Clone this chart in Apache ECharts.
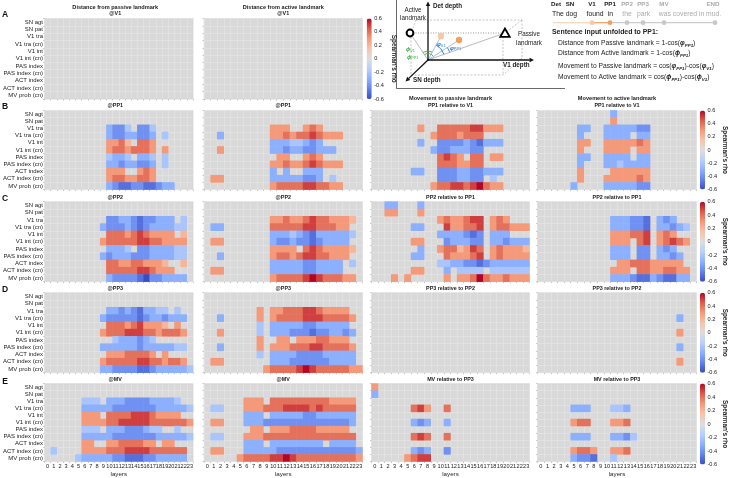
<!DOCTYPE html>
<html lang="en">

<head>
  <meta charset="UTF-8">
  <title>Spearman's rho by layer</title>
  <style>
    html,
    body {
      margin: 0;
      padding: 0;
      background: #fff;
    }

    #chart {
      width: 731px;
      height: 478px;
    }
  </style>
</head>

<body>
  <div id="chart"></div>
  <script src="https://cdn.jsdelivr.net/npm/echarts@6/dist/echarts.min.js"></script>
  <script>
    var layers = ['0', '1', '2', '3', '4', '5', '6', '7', '8', '9', '10', '11', '12', '13', '14', '15', '16', '17', '18', '19', '20', '21', '22', '23'];
    var features = ['SN agt', 'SN pat', 'V1 tra', 'V1 tra (cn)', 'V1 int', 'V1 int (cn)', 'PAS index', 'PAS index (cn)', 'ACT index', 'ACT index (cn)', 'MV prob (cn)'];
    var rhoTicks = ['0.6', '0.4', '0.2', '0', '-0.2', '-0.4', '-0.6'];

    // one string per feature, one char per layer
    // '.' = not significant, '1'..'6' = +0.1..+0.6, 'a'..'f' = -0.1..-0.6
    var distPassV1 = [
      '........................', '........................', '........................', '........................',
      '........................', '........................', '........................', '........................',
      '........................', '........................', '........................'
    ];
    var distActV1 = [
      '........................', '........................', '........................', '........................',
      '........................', '........................', '........................', '........................',
      '........................', '........................', '........................'
    ];

    var distPassPP1 = [
      '........................',
      '........................',
      '..........cddb.ddb......',
      '..........cddccddc.b....',
      '..........3342.443......',
      '..........34434443.3....',
      '..........bccb.ccb.b....',
      '..........ccdccddc.b....',
      '..........333..343......',
      '..........34433443......',
      '..........cdeeddeedcc...'
    ];
    var distActPP1 = [
      '........................',
      '........................',
      '..........333..343......',
      '..c.......33434454333...',
      '..........cccbbcdc......',
      '..3.......ccdccddccc....',
      '...........33..343......',
      '..........33433454333...',
      '..........c.c..ccc......',
      '.33.......cccccddc.b....',
      '..........34444554433...'
    ];
    var movePassPP1 = [
      '........................',
      '........................',
      '.......3..4444455333....',
      '.........34443444.......',
      '.......c..ddddcdeccc....',
      '.........cddcccdd.......',
      '..........4543.44.33....',
      '..........4443344.......',
      '......cc..dddccddccc....',
      '..........dddccdd.b.....',
      '.........34455456433....'
    ];
    var moveActPP1 = [
      '...........c............',
      '...........3............',
      '......cc..cccccdd.......',
      '......c...cccc.cc.......',
      '......33..3333343.......',
      '......3...3333.33.......',
      '......cc..cccc.cc.......',
      '......c...ccbcccc.......',
      '......3....333333.......',
      '......3...3333343.......',
      '.....c....cccccdd.......'
    ];

    var distPassPP2 = [
      '........................',
      '........................',
      '..........ddccdeddccc.b.',
      '.........cdddcdedccccbb.',
      '..........44434543333.2.',
      '.........34444455443333.',
      '..........cccb.ddccccbb.',
      '.........cdcccdddccccbb.',
      '..........4433443332..2.',
      '..........44444554333...',
      '..........cddddefddcccc.'
    ];
    var distActPP2 = [
      '........................',
      '........................',
      '..........3343345443332.',
      '.cc.......444445544433..',
      '..........cccbcdecccccb.',
      '.33.......cddcddedcccc..',
      '..........3333.45433332.',
      '..c.......344345544333..',
      '..........cccccddcccc.b.',
      '.33.......cccccddcccc...',
      '..........3444456544433.'
    ];
    var movePassPP2 = [
      '..cc...c................',
      '..33...3................',
      '..........3433455.343...',
      '......cc...533445.344333',
      '..........ccccded.ccc...',
      '......33...dcccdd.ccdccc',
      '.......c..3442354.343332',
      '......cc...433345.343333',
      '..........bbccddedcccccc',
      '......33...c.bbbb.bbbbbb',
      '...3.3.....3.33464334333'
    ];
    var moveActPP2 = [
      '........................',
      '........................',
      '...........cccdde.cdc...',
      '...........cccdde.ccdcb.',
      '...........333445.343...',
      '...........333.45.34543.',
      '...........ccc.dd.cdc...',
      '...........ccc.dd.ccdc..',
      '............3344433333..',
      '...........333.44334433.',
      '...........cccdeecdeecc.'
    ];

    var distPassPP3 = [
      '........................',
      '........................',
      '..........ccdcdeccbb.b..',
      '.........cdddddedccdccc.',
      '..........4443453332.3..',
      '.........34445554434443.',
      '...........bcccdcb......',
      '.........ccccccdcccccbb.',
      '..........33344443.3....',
      '.........34444455443443.',
      '.........ccddddeedcccccb'
    ];
    var distActPP3 = [
      '........................',
      '........................',
      '........3.334445543333..',
      '..c.....3.3444455544443.',
      '........b.cccccddccccc..',
      '..3.....b.cccdddeddccdc.',
      '........3..33.33344333..',
      '..c.....3.3334445544443.',
      '........b.ccccddddccccc.',
      '.33.......cccddddddcccc.',
      '.........344445654444433'
    ];
    var movePassPP3 = [
      '........................', '........................', '........................', '........................',
      '........................', '........................', '........................', '........................',
      '........................', '........................', '........................'
    ];
    var moveActPP3 = [
      '........................',
      '........................',
      '........................',
      '.....................c..',
      '........................',
      '.....................3..',
      '........................',
      '.....................c..',
      '........................',
      '.....................3..',
      '........................'
    ];

    var distPassMV = [
      '........................',
      '........................',
      '......bbb.cccddddccccb..',
      '......cccccdddddddcccccb',
      '......333.444455543333..',
      '......333344555554444443',
      '......bbb.cccdddcbb..b..',
      '......cccccdddddddcccccb',
      '......33..33444433.33...',
      '.b....33334445555444444.',
      '.....bcccccddeeeddccccc.'
    ];
    var distActMV = [
      '........................',
      '........................',
      '......333.4444444443333.',
      '.bb...33344455554544444.',
      '......ccc.cccccddcccccc.',
      '.33...cccdddddddddddddc.',
      '.......33.333444433333..',
      '.bb...33344444444444444.',
      '......ccc.cccccccc.cccc.',
      '.33...cccccddddddddddddc',
      '.....3444455654444444443'
    ];
    var movePassMV = [
      '3.......................',
      'c.......................',
      '........................',
      '......453..4............',
      '........................',
      '......cdc..c............',
      '........................',
      '......454..4............',
      '........................',
      '......cdc..d............',
      '.....3455...............'
    ];
    var moveActMV = [
      '........................',
      '........................',
      '........................',
      '.....ccc...bbc..........',
      '........................',
      '.....344...334..........',
      '........................',
      '.....ccc...ccdb.........',
      '........................',
      '.....3443..334..........',
      '.....cdde..b............'
    ];

    var panels = [
      { row: 0, col: 0, cells: distPassV1, head: 'Distance from passive landmark', sub: '@V1' },
      { row: 0, col: 1, cells: distActV1, head: 'Distance from active landmark', sub: '@V1' },
      { row: 1, col: 0, cells: distPassPP1, sub: '@PP1' },
      { row: 1, col: 1, cells: distActPP1, sub: '@PP1' },
      { row: 1, col: 2, cells: movePassPP1, head: 'Movement to passive landmark', sub: 'PP1 relative to V1' },
      { row: 1, col: 3, cells: moveActPP1, head: 'Movement to active landmark', sub: 'PP1 relative to V1' },
      { row: 2, col: 0, cells: distPassPP2, sub: '@PP2' },
      { row: 2, col: 1, cells: distActPP2, sub: '@PP2' },
      { row: 2, col: 2, cells: movePassPP2, sub: 'PP2 relative to PP1' },
      { row: 2, col: 3, cells: moveActPP2, sub: 'PP2 relative to PP1' },
      { row: 3, col: 0, cells: distPassPP3, sub: '@PP3' },
      { row: 3, col: 1, cells: distActPP3, sub: '@PP3' },
      { row: 3, col: 2, cells: movePassPP3, sub: 'PP3 relative to PP2' },
      { row: 3, col: 3, cells: moveActPP3, sub: 'PP3 relative to PP2' },
      { row: 4, col: 0, cells: distPassMV, sub: '@MV' },
      { row: 4, col: 1, cells: distActMV, sub: '@MV' },
      { row: 4, col: 2, cells: movePassMV, sub: 'MV relative to PP3' },
      { row: 4, col: 3, cells: moveActMV, sub: 'MV relative to PP3' }
    ];

    var FONT = '"Liberation Sans", Arial, sans-serif';
    var colX = [[37.5, 155.5], [204, 158.5], [371.5, 158], [537.5, 159]];
    var rowY = [[18.5, 80.5], [110.4, 79.2], [201.7, 80], [292.7, 80], [383.6, 81]];
    var coolwarm = ['#3b4cc0', '#6282ea', '#8db0fe', '#b8d0f9', '#dddddd', '#f5c4ac', '#f49a7b', '#dc5d4b', '#b40426'];

    function decode(rows) {
      var out = [];
      rows.forEach(function (s, r) {
        s = (s + '........................').slice(0, 24);
        for (var c = 0; c < 24; c++) {
          var ch = s.charAt(c);
          if (ch === '.') continue;
          var v = (ch >= '0' && ch <= '9') ? +ch / 10 : -(ch.charCodeAt(0) - 96) / 10;
          out.push([c, r, v]);
        }
      });
      return out;
    }

    function txt(x, y, s, size, opt) {
      var st = {
        text: s, x: x, y: y, fontSize: size, fontFamily: FONT, fill: '#222',
        align: 'center', verticalAlign: 'middle', textAlign: 'center', textVerticalAlign: 'middle'
      };
      for (var k in opt) st[k] = opt[k];
      if (opt && opt.align) st.textAlign = opt.align;
      return { type: 'text', silent: true, style: st };
    }

    function line(x1, y1, x2, y2, stroke, w, dash) {
      return {
        type: 'line', silent: true, shape: { x1: x1, y1: y1, x2: x2, y2: y2 },
        style: { stroke: stroke, lineWidth: w, lineDash: dash || null }
      };
    }

    function arrow(x1, y1, x2, y2) {
      var dx = x2 - x1, dy = y2 - y1, len = Math.sqrt(dx * dx + dy * dy);
      var ux = dx / len, uy = dy / len, h = 4.5, w = 2.2;
      var bx = x2 - ux * h, by = y2 - uy * h;
      return [
        line(x1, y1, bx, by, '#111', 1.3),
        {
          type: 'polygon', silent: true,
          shape: { points: [[x2, y2], [bx - uy * w, by + ux * w], [bx + uy * w, by - ux * w]] },
          style: { fill: '#111' }
        }
      ];
    }

    function arc(r, a1, a2, color) {
      return {
        type: 'arc', silent: true,
        shape: { cx: 428, cy: 60, r: r, startAngle: a1 * Math.PI / 180, endAngle: a2 * Math.PI / 180, clockwise: true },
        style: { stroke: color, fill: null, lineWidth: 0.9 }
      };
    }

    var grids = [], xAxes = [], yAxes = [], series = [], graphics = [];
    var rowSeries = [[], [], [], [], []];

    panels.forEach(function (p, i) {
      var left = colX[p.col][0], width = colX[p.col][1];
      var top = rowY[p.row][0], height = rowY[p.row][1];
      var last = p.row === 4;
      grids.push({
        left: left, top: top, width: width, height: height, show: true,
        backgroundColor: '#d9d9d9', borderColor: '#cccccc', borderWidth: 0.5
      });
      xAxes.push({
        type: 'category', gridIndex: i, data: layers,
        axisLine: { show: false },
        axisTick: { show: true, interval: 0, length: 1.5, lineStyle: { color: '#999', width: 0.5 } },
        axisLabel: { show: last, interval: 0, fontSize: 5.6, margin: 1.5, color: '#222', fontFamily: FONT },
        splitLine: { show: true, interval: 0, lineStyle: { color: '#e9e9e9', width: 0.5 } },
        name: last ? 'layers' : '', nameLocation: 'middle', nameGap: 9.5,
        nameTextStyle: { fontSize: 6.2, color: '#222', fontFamily: FONT }
      });
      yAxes.push({
        type: 'category', gridIndex: i, data: features, inverse: true,
        axisLine: { show: false },
        axisTick: { show: true, interval: 0, length: 1.5, lineStyle: { color: '#999', width: 0.5 } },
        axisLabel: { show: p.col === 0, interval: 0, fontSize: 6, margin: 1.5, color: '#222', fontFamily: FONT },
        splitLine: { show: true, interval: 0, lineStyle: { color: '#e9e9e9', width: 0.5 } }
      });
      rowSeries[p.row].push(series.length);
      series.push({
        type: 'heatmap', xAxisIndex: i, yAxisIndex: i, data: decode(p.cells),
        itemStyle: { borderWidth: 0 }, emphasis: { disabled: true }, silent: true
      });
      // panel titles
      var cx = left + width / 2;
      if (p.head) {
        graphics.push(txt(cx, top - 11.5, p.head, 5.6, { fontWeight: 'bold' }));
      }
      graphics.push(txt(cx, top - 4.5, p.sub, 5.4, { fontWeight: 'bold' }));
    });

    // colour bars: one per row
    var visualMaps = [];
    rowY.forEach(function (ry, r) {
      var cbX = r === 0 ? 366.7 : 700;
      visualMaps.push({
        type: 'continuous', min: -0.6, max: 0.6, seriesIndex: rowSeries[r],
        calculable: false, hoverLink: false, orient: 'vertical', padding: 0,
        left: cbX, top: ry[0], itemWidth: 5, itemHeight: ry[1],
        inRange: { color: coolwarm }
      });
      var gi = grids.length;
      grids.push({ left: cbX, top: ry[0], width: 5, height: ry[1], show: false });
      xAxes.push({ type: 'value', gridIndex: gi, show: false, min: 0, max: 1 });
      yAxes.push({
        type: 'value', gridIndex: gi, min: -0.6, max: 0.6, interval: 0.2, position: 'right',
        axisLine: { show: false }, axisTick: { show: false }, splitLine: { show: false },
        axisLabel: {
          fontSize: 5.6, margin: 2.5, color: '#222', fontFamily: FONT,
          formatter: function (v) { return rhoTicks[Math.round((0.6 - v) / 0.2)]; }
        },
        name: "Spearman's rho", nameLocation: 'middle', nameRotate: -90, nameGap: r === 0 ? 19 : 17,
        nameTextStyle: { fontSize: 6.4, fontWeight: 'bold', color: '#222', fontFamily: FONT }
      });
    });

    // row letters
    [['A', 15], ['B', 107], ['C', 198.5], ['D', 290], ['E', 381.5]].forEach(function (l) {
      graphics.push(txt(5, l[1], l[0], 8.5, { fontWeight: 'bold', fill: '#111' }));
    });

    // diagram frame
    graphics.push(line(396.5, 0, 396.5, 88.5, '#444', 0.8));
    graphics.push(line(396.5, 88.5, 565, 88.5, '#444', 0.8));

    // dashed box
    var g = '#9a9a9a';
    graphics.push(line(416, 20, 522, 20, g, 0.6, [2, 1.5]));
    graphics.push(line(522, 20, 522, 58, g, 0.6, [2, 1.5]));
    graphics.push(line(522, 20, 505, 33, g, 0.6, [2, 1.5]));
    graphics.push(line(416, 20, 411, 33, g, 0.6, [2, 1.5]));
    graphics.push(line(413, 33, 501, 33, '#555', 0.6, [1, 1.5]));
    graphics.push(line(503, 33, 503, 75, g, 0.6, [2, 1.5]));
    graphics.push(line(411, 75, 503, 75, g, 0.6, [2, 1.5]));
    graphics.push(line(411, 37, 411, 75, g, 0.6, [2, 1.5]));
    graphics.push(line(522, 58, 503, 75, g, 0.6, [2, 1.5]));

    // vectors from origin
    graphics.push(line(428, 60, 410, 33, '#8a8a8a', 0.6));
    graphics.push(line(428, 60, 505, 33, '#8a8a8a', 0.6));
    graphics.push(line(428, 60, 441, 36, '#5a9be0', 0.6));
    graphics.push(line(428, 60, 459, 40, '#5a9be0', 0.6));

    // axes
    graphics = graphics.concat(arrow(428, 61, 428, 1.5));
    graphics = graphics.concat(arrow(427, 60, 534, 60));
    graphics = graphics.concat(arrow(428.5, 59.5, 405.5, 81.5));

    // angles
    graphics.push(arc(9, -123.7, -61.6, '#3cb043'));
    graphics.push(arc(6.5, -123.7, -32.8, '#3cb043'));
    graphics.push(arc(17, -61.6, -19.3, '#2a7fd6'));
    graphics.push(arc(23, -32.8, -19.3, '#2a7fd6'));

    // landmarks and word points
    graphics.push({ type: 'circle', silent: true, shape: { cx: 410, cy: 33, r: 3.4 }, style: { fill: '#fff', stroke: '#000', lineWidth: 2 } });
    graphics.push({
      type: 'polygon', silent: true,
      shape: { points: [[505, 28.5], [500.3, 36.8], [509.7, 36.8]] },
      style: { fill: '#fff', stroke: '#000', lineWidth: 1.8, lineJoin: 'miter' }
    });
    graphics.push({ type: 'circle', silent: true, shape: { cx: 441, cy: 36, r: 3.2 }, style: { fill: '#f8c7a3' } });
    graphics.push({ type: 'circle', silent: true, shape: { cx: 459, cy: 40, r: 3.2 }, style: { fill: '#f29e5c' } });

    // diagram labels
    graphics.push(txt(413, 10.5, 'Active', 6.3));
    graphics.push(txt(413, 18.5, 'landmark', 6.3));
    graphics.push(txt(529, 34.5, 'Passive', 6.3));
    graphics.push(txt(529, 43, 'landmark', 6.3));
    graphics.push(txt(433, 6, 'Det depth', 6.3, { fontWeight: 'bold', align: 'left' }));
    graphics.push(txt(503, 65.5, 'V1 depth', 6.3, { fontWeight: 'bold', align: 'left' }));
    graphics.push(txt(413, 80, 'SN depth', 6.3, { fontWeight: 'bold', align: 'left' }));
    var angleRich = {
      gp: { fontSize: 5.5, fontWeight: 'bold', fontStyle: 'italic', fill: '#3cb043', fontFamily: FONT },
      gs: { fontSize: 3.8, fill: '#3cb043', fontFamily: FONT, verticalAlign: 'bottom' },
      bp: { fontSize: 5.5, fontWeight: 'bold', fontStyle: 'italic', fill: '#2a7fd6', fontFamily: FONT },
      bs: { fontSize: 3.8, fill: '#2a7fd6', fontFamily: FONT, verticalAlign: 'bottom' }
    };
    graphics.push(txt(406, 49.5, '{gp|ϕ}{gs|V1}', 5.5, { align: 'left', rich: angleRich }));
    graphics.push(txt(407, 57, '{gp|ϕ}{gs|PP1}', 5.5, { align: 'left', rich: angleRich }));
    graphics.push(txt(437, 44.5, '{bp|φ}{bs|V1}', 5.5, { align: 'left', rich: angleRich }));
    graphics.push(txt(450, 48, '{bp|φ}{bs|PP1}', 5.5, { align: 'left', rich: angleRich }));

    // sentence and timeline
    var grey = '#aaaaaa';
    [['Det', 556, '#222'], ['SN', 570, '#222'], ['V1', 592, '#222'], ['PP1', 610, '#222'],
    ['PP2', 627, grey], ['PP3', 643, grey], ['MV', 664, grey], ['END', 713, grey]].forEach(function (w) {
      graphics.push(txt(w[1], 4.5, w[0], 6.2, { fontWeight: 'bold', fill: w[2] }));
    });
    [['The dog', 564.5, '#222'], ['found', 595, '#222'], ['in', 610.5, '#222'],
    ['the', 627, grey], ['park', 643.5, grey], ['was covered in mud.', 690, grey]].forEach(function (w) {
      graphics.push(txt(w[1], 14.5, w[0], 6.8, { fill: w[2] }));
    });
    graphics.push(line(553, 22.7, 592, 22.7, '#f9d8bd', 1.3));
    graphics.push(line(592, 22.7, 610, 22.7, '#f4a460', 1.3));
    graphics.push(line(610, 22.7, 715, 22.7, '#cccccc', 1.3));
    [[592, '#f8c7a3'], [610, '#f29e5c'], [627, '#c8c8c8'], [643, '#c8c8c8'], [664, '#c8c8c8'], [715, '#c8c8c8']].forEach(function (d) {
      graphics.push({ type: 'circle', silent: true, shape: { cx: d[0], cy: 22.7, r: 2.4 }, style: { fill: d[1] } });
    });

    graphics.push(txt(552, 32.5, 'Sentence input unfolded to PP1:', 6.9, { fontWeight: 'bold', align: 'left' }));
    var eqRich = {
      t: { fontSize: 6.7, fill: '#222', fontFamily: FONT, lineHeight: 9 },
      p: { fontSize: 6.7, fill: '#222', fontWeight: 'bold', fontStyle: 'italic', fontFamily: FONT, lineHeight: 9 },
      s: { fontSize: 4.4, fill: '#222', fontWeight: 'bold', fontStyle: 'italic', fontFamily: FONT, verticalAlign: 'bottom', lineHeight: 9 }
    };
    [['Distance from Passive landmark = 1-cos(', 'φ', ')', 43],
    ['Distance from Active landmark = 1-cos(', 'ϕ', ')', 53]].forEach(function (e) {
      graphics.push(txt(558, e[3], '{t|' + e[0] + '}{p|' + e[1] + '}{s|PP1}{t|' + e[2] + '}', 6.7, { align: 'left', rich: eqRich }));
    });
    [['Movement to Passive landmark = cos(', 'φ', 66.5],
    ['Movement to Active landmark = cos(', 'ϕ', 77]].forEach(function (e) {
      graphics.push(txt(558, e[2],
        '{t|' + e[0] + '}{p|' + e[1] + '}{s|PP1}{t|)-cos(}{p|' + e[1] + '}{s|V1}{t|)}', 6.7,
        { align: 'left', rich: eqRich }));
    });

    var myChart = echarts.init(document.getElementById('chart'), null, { renderer: 'canvas' });
    myChart.setOption({
      animation: false,
      textStyle: { fontFamily: FONT },
      grid: grids,
      xAxis: xAxes,
      yAxis: yAxes,
      visualMap: visualMaps,
      series: series,
      graphic: { elements: graphics }
    });
  </script>
</body>

</html>
